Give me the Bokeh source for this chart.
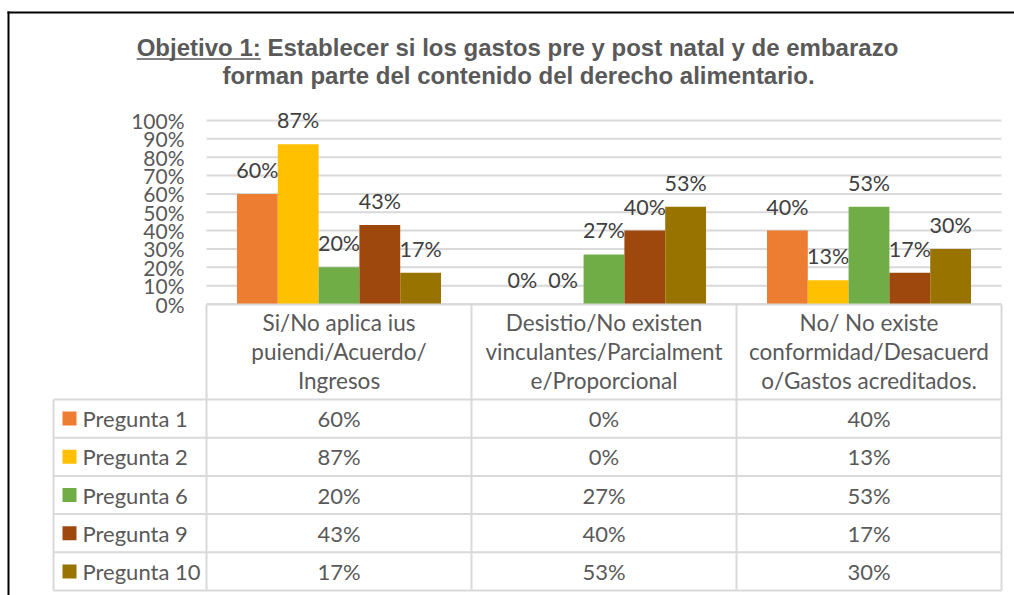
from bokeh.plotting import figure
from bokeh.models import Range1d
from bokeh.core.properties import value
from bokeh.embed import file_html
from bokeh.resources import INLINE

# ---------------- data ----------------
title_lines = [
    "Objetivo 1: Establecer si los gastos pre y post natal y de embarazo",
    "forman parte del contenido del derecho alimentario.",
]
title_underlined = "Objetivo 1:"

categories = [
    "Si/No aplica ius\npuiendi/Acuerdo/\nIngresos",
    "Desistio/No existen\nvinculantes/Parcialment\ne/Proporcional",
    "No/ No existe\nconformidad/Desacuerd\no/Gastos acreditados.",
]
series_names = ["Pregunta 1", "Pregunta 2", "Pregunta 6", "Pregunta 9", "Pregunta 10"]
pregunta_1 = [0.60, 0.00, 0.40]
pregunta_2 = [0.87, 0.00, 0.13]
pregunta_6 = [0.20, 0.27, 0.53]
pregunta_9 = [0.43, 0.40, 0.17]
pregunta_10 = [0.17, 0.53, 0.30]
series_values = [pregunta_1, pregunta_2, pregunta_6, pregunta_9, pregunta_10]
y_ticks = [0.0, 0.1, 0.2, 0.3, 0.4, 0.5, 0.6, 0.7, 0.8, 0.9, 1.0]

# ---------------- styles ----------------
colors = ["#ED7D31", "#FFC000", "#70AD47", "#9E480E", "#997300"]
TEXT = "#595959"
LABEL = "#404040"
GRID = "#D9D9D9"
FONT = value("Lato")
TITLE_FONT = value("Liberation Sans")

# ---------------- layout (page pixels of the reference) ----------------
W, H = 1014, 595
X0, Y0 = 0, 0                       # reference coordinate of canvas top-left
PLOT_LEFT, PLOT_RIGHT = 206, 1001
Y_ZERO, Y_FULL = 303.5, 120.0
LEG_LEFT = 53
HEAD_TOP, HEAD_BOTTOM = 304, 399
TABLE_BOTTOM = 590
HEAD_LINE1, HEAD_PITCH = 322, 29
BAR_W = 0.154
TITLE_FS = 24
TITLE_EM, PREFIX_EM = 31.73, 5.17   # estimated text widths (em) for underline
TITLE_CX = 517

col_w = (PLOT_RIGHT - PLOT_LEFT) / len(categories)
center0 = PLOT_LEFT + col_w / 2
px_per_unit = Y_ZERO - Y_FULL
n_rows = len(series_names)
row_h = (TABLE_BOTTOM - HEAD_BOTTOM) / n_rows

p = figure(width=W, height=H, output_backend="svg", toolbar_location=None,
           x_range=Range1d(X0, X0 + W), y_range=Range1d(Y0 + H, Y0),
           x_axis_location=None, y_axis_location=None, min_border=0)
p.extra_x_ranges = {"cat": Range1d((X0 - center0) / col_w, (X0 + W - center0) / col_w)}
p.extra_y_ranges = {"pct": Range1d((Y_ZERO - (Y0 + H)) / px_per_unit, (Y_ZERO - Y0) / px_per_unit)}
p.outline_line_color = None
p.background_fill_color = "white"
p.border_fill_color = "white"
p.xgrid.visible = False
p.ygrid.visible = False

# outer frame (left and top)
p.segment(x0=[8, 7], y0=[11, 12], x1=[8, X0 + W], y1=[Y0 + H, 12],
          line_color="black", line_width=2)

# title
p.text(x=[TITLE_CX, TITLE_CX + 1], y=[47, 75], text=title_lines, text_font=TITLE_FONT,
       text_font_style="bold", text_font_size=f"{TITLE_FS}px", text_color=TEXT,
       text_align="center", text_baseline="middle")
ux0 = TITLE_CX - TITLE_EM * TITLE_FS / 2
p.segment(x0=[ux0], y0=[58.5], x1=[ux0 + PREFIX_EM * TITLE_FS], y1=[58.5],
          line_color=TEXT, line_width=1.6)

# gridlines and y tick labels
p.segment(x0=[PLOT_LEFT] * len(y_ticks), x1=[PLOT_RIGHT] * len(y_ticks), y0=y_ticks, y1=y_ticks,
          y_range_name="pct", line_color=GRID, line_width=2)
p.text(x=[PLOT_LEFT - 22] * len(y_ticks), y=y_ticks, text=[f"{round(t * 100)}%" for t in y_ticks],
       y_range_name="pct", text_font=FONT, text_font_size="21px", text_color=TEXT,
       text_align="right", text_baseline="middle")

# bars + data labels
for j, (vals, col) in enumerate(zip(series_values, colors)):
    xs = [i + (j - (n_rows - 1) / 2) * BAR_W for i in range(len(categories))]
    p.vbar(x=xs, top=vals, bottom=0, width=BAR_W, fill_color=col, line_color=None,
           x_range_name="cat", y_range_name="pct")
    p.text(x=xs, y=vals, text=[f"{round(v * 100)}%" for v in vals], x_range_name="cat",
           y_range_name="pct", y_offset=-24, text_font=FONT, text_font_size="21.5px",
           text_color=LABEL, text_align="center", text_baseline="middle")

# table grid
h_y = [HEAD_BOTTOM + k * row_h for k in range(n_rows + 1)]
p.segment(x0=[PLOT_LEFT] + [LEG_LEFT] * len(h_y), x1=[PLOT_RIGHT] * (len(h_y) + 1),
          y0=[HEAD_TOP] + h_y, y1=[HEAD_TOP] + h_y, line_color=GRID, line_width=2)
v_x = [PLOT_LEFT + k * col_w for k in range(len(categories) + 1)]
p.segment(x0=[LEG_LEFT] + v_x, x1=[LEG_LEFT] + v_x, y0=[HEAD_BOTTOM] + [HEAD_TOP] * len(v_x),
          y1=[TABLE_BOTTOM] * (len(v_x) + 1), line_color=GRID, line_width=2)

# header (category names)
hx, hy, ht = [], [], []
for i, cat in enumerate(categories):
    for k, line in enumerate(cat.split("\n")):
        hx.append(i)
        hy.append(HEAD_LINE1 + k * HEAD_PITCH)
        ht.append(line)
p.text(x=hx, y=hy, text=ht, x_range_name="cat", text_font=FONT, text_font_size="22.5px",
       text_color=TEXT, text_align="center", text_baseline="middle")

# table body
row_c = [HEAD_BOTTOM + (r + 0.5) * row_h for r in range(n_rows)]
bx, by, bt = [], [], []
for r, vals in enumerate(series_values):
    for i, v in enumerate(vals):
        bx.append(i)
        by.append(row_c[r])
        bt.append(f"{round(v * 100)}%")
p.text(x=bx, y=by, text=bt, x_range_name="cat", text_font=FONT, text_font_size="22px",
       text_color=TEXT, text_align="center", text_baseline="middle")

# legend column
p.rect(x=[LEG_LEFT + 16] * n_rows, y=row_c, width=14, height=14, width_units="screen",
       height_units="screen", fill_color=colors, line_color=None)
p.text(x=[LEG_LEFT + 29] * n_rows, y=row_c, text=series_names, text_font=FONT,
       text_font_size="22px", text_color=TEXT, text_align="left", text_baseline="middle")

open("out.html", "w").write(file_html(p, INLINE))
